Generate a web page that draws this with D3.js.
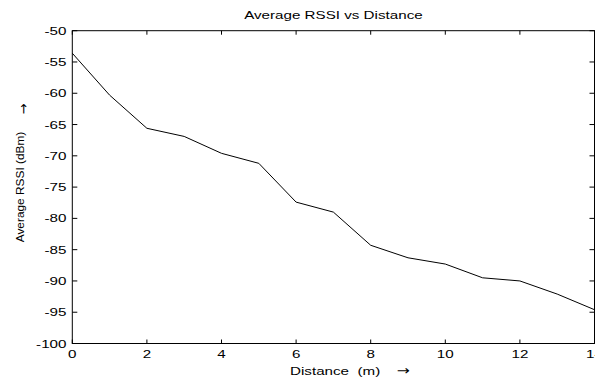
<!DOCTYPE html>
<html>
<head>
<meta charset="utf-8">
<script src="https://cdn.jsdelivr.net/npm/d3@7"></script>
<style>
  html, body { margin: 0; padding: 0; background: #fff; overflow: hidden; }
  svg { display: block; font-family: "Liberation Sans", Arial, sans-serif; }
  text { fill: #000; white-space: pre; }
  .arrow { font-family: "DejaVu Sans", sans-serif; }
</style>
</head>
<body>
<div id="chart"></div>
<script>
(function() {
    'use strict';

    // Data
    var distance = [0, 1, 2, 3, 4, 5, 6, 7, 8, 9, 10, 11, 12, 13, 14];
    var rssi = [-53.6, -60.3, -65.6, -66.9, -69.6, -71.2, -77.4, -79.0, -84.3, -86.3, -87.3, -89.5, -90.0, -92.1, -94.6];
    var xTicks = [0, 2, 4, 6, 8, 10, 12, 14];
    var yTicks = [-50, -55, -60, -65, -70, -75, -80, -85, -90, -95, -100];

    var width = 595, height = 378;
    var left = 72.3, right = 594.5, top = 30.7, bottom = 343.5;
    var sx = 1.38; // the picture's text is stretched sideways

    var x = d3.scaleLinear().domain([0, 14]).range([left, right]);
    var y = d3.scaleLinear().domain([-100, -50]).range([bottom, top]);

    var svg = d3.select('#chart').append('svg')
        .attr('width', width)
        .attr('height', height);

    function stretchedText(px, py, str, anchor) {
        return svg.append('text')
            .attr('transform', 'translate(' + px + ',' + py + ') scale(' + sx + ',1)')
            .attr('text-anchor', anchor || 'middle')
            .attr('font-size', 11)
            .text(str);
    }

    // Line
    var line = d3.line()
        .x(function(d, i) { return x(distance[i]); })
        .y(function(d) { return y(d); });

    svg.append('path')
        .datum(rssi)
        .attr('d', line)
        .attr('fill', 'none')
        .attr('stroke', '#000')
        .attr('stroke-width', 1);

    // Box
    svg.append('rect')
        .attr('x', left).attr('y', top)
        .attr('width', right - left).attr('height', bottom - top)
        .attr('fill', 'none')
        .attr('stroke', '#000')
        .attr('stroke-width', 1);

    // Inward ticks on all four sides
    var tk = svg.append('g').attr('stroke', '#000').attr('stroke-width', 1);
    xTicks.forEach(function(t) {
        tk.append('line').attr('x1', x(t)).attr('x2', x(t)).attr('y1', bottom).attr('y2', bottom - 4);
        tk.append('line').attr('x1', x(t)).attr('x2', x(t)).attr('y1', top).attr('y2', top + 4);
    });
    yTicks.forEach(function(t) {
        tk.append('line').attr('x1', left).attr('x2', left + 5).attr('y1', y(t)).attr('y2', y(t));
        tk.append('line').attr('x1', right).attr('x2', right - 5).attr('y1', y(t)).attr('y2', y(t));
    });

    // Tick labels
    xTicks.forEach(function(t) {
        stretchedText(x(t), 357.5, String(t), 'middle');
    });
    yTicks.forEach(function(t) {
        stretchedText(66.5, y(t) + 4, String(t), 'end');
    });

    // Title
    stretchedText((left + right) / 2, 18.5, 'Average RSSI vs Distance', 'middle');

    // X label
    stretchedText(290, 374.5, 'Distance  (m)', 'start');
    svg.append('text')
        .attr('class', 'arrow')
        .attr('transform', 'translate(403.5,374.5) scale(1.2,1)')
        .attr('text-anchor', 'middle')
        .attr('font-size', 13)
        .text('\u2192');

    // Y label (rotated)
    svg.append('text')
        .attr('transform', 'translate(24,187) rotate(-90) scale(1.08,1)')
        .attr('text-anchor', 'middle')
        .attr('font-size', 11)
        .text('Average RSSI (dBm)');
    svg.append('text')
        .attr('class', 'arrow')
        .attr('transform', 'translate(28,109) rotate(-90)')
        .attr('text-anchor', 'middle')
        .attr('font-size', 13)
        .text('\u2192');
})();
</script>
</body>
</html>
